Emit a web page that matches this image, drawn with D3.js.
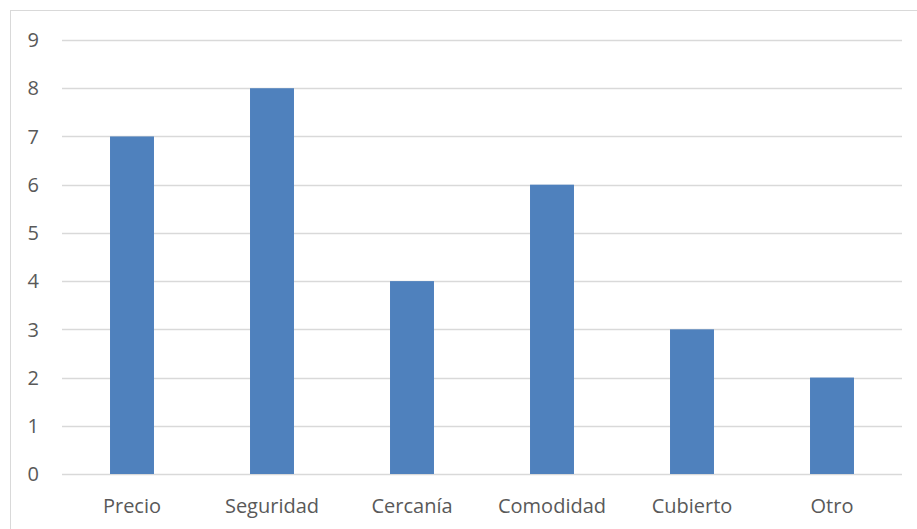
<!DOCTYPE html>
<html>
<head>
<meta charset="utf-8">
<script src="https://cdn.jsdelivr.net/npm/d3@7"></script>
<style>
  body { margin: 0; background: #fff; }
  svg text { font-family: "Open Sans", "Noto Sans", sans-serif; fill: #595959; }
</style>
</head>
<body>
<div id="chart"></div>
<script>
var categories = ["Precio", "Seguridad", "Cercanía", "Comodidad", "Cubierto", "Otro"];
var values = [7, 8, 4, 6, 3, 2];
var yTicks = [0, 1, 2, 3, 4, 5, 6, 7, 8, 9];

var width = 917, height = 529;
var margin = { left: 62, right: 15, top: 40, bottom: 55 };

var svg = d3.select("#chart").append("svg")
    .attr("width", width)
    .attr("height", height);

// chart area border (right/bottom edges fall outside the picture)
svg.append("rect")
    .attr("x", 10.5).attr("y", 10.5)
    .attr("width", 920).attr("height", 530)
    .attr("fill", "none")
    .attr("stroke", "#d9d9d9");

var x = d3.scaleBand()
    .domain(categories)
    .range([margin.left, width - margin.right])
    .paddingInner(0.686)
    .paddingOuter(0.343);

var y = d3.scaleLinear()
    .domain([0, 9])
    .range([height - margin.bottom, margin.top]);

// gridlines
svg.append("g")
    .selectAll("line")
    .data(yTicks)
    .enter()
    .append("line")
    .attr("x1", margin.left)
    .attr("x2", width - margin.right)
    .attr("y1", d => Math.round(y(d)) + 0.5)
    .attr("y2", d => Math.round(y(d)) + 0.5)
    .attr("stroke", "#d9d9d9")
    .attr("stroke-width", 1.5);

// y labels
svg.append("g")
    .selectAll("text")
    .data(yTicks)
    .enter()
    .append("text")
    .attr("x", 39)
    .attr("y", d => y(d))
    .attr("dy", "0.36em")
    .attr("text-anchor", "end")
    .style("font-size", "20px")
    .text(d => d);

// bars
svg.append("g")
    .selectAll("rect")
    .data(values)
    .enter()
    .append("rect")
    .attr("x", (d, i) => x(categories[i]))
    .attr("width", x.bandwidth())
    .attr("y", d => y(d))
    .attr("height", d => y(0) - y(d))
    .attr("fill", "#4f81bd");

// x labels
svg.append("g")
    .selectAll("text")
    .data(categories)
    .enter()
    .append("text")
    .attr("x", d => x(d) + x.bandwidth() / 2)
    .attr("y", 513)
    .attr("text-anchor", "middle")
    .style("font-size", "20px")
    .text(d => d);
</script>
</body>
</html>
